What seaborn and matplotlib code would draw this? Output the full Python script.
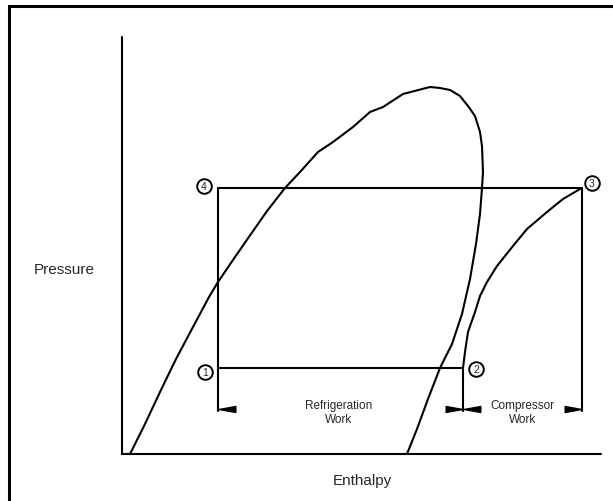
import numpy as np
import matplotlib.pyplot as plt
import seaborn as sns
import pandas as pd
from matplotlib.path import Path

sns.set_style("white")
plt.rcParams['font.family'] = ['Liberation Sans', 'DejaVu Sans']

# Schematic pressure-enthalpy diagram (pixel-like units)
dome_x = [130, 145, 160, 176, 193, 209, 218, 235, 251, 267, 285, 300, 318, 333, 353, 370, 383, 403,
          430, 440, 450, 460, 468, 475, 480, 482, 483, 482, 480, 476, 470, 462, 452, 440, 428, 417, 407]
dome_y = [455, 425, 393, 360, 328, 298, 283, 258, 235, 212, 189, 173, 153, 143, 128, 113, 108, 95,
          88, 89, 91, 97, 107, 117, 133, 147, 173, 189, 215, 245, 280, 315, 345, 369, 400, 430, 455]

comp_x = [463, 465, 468, 475, 480, 487, 497, 513, 527, 547, 563, 580]
comp_y = [369, 353, 333, 313, 297, 283, 267, 247, 230, 213, 200, 190]

# cycle corners 1, 2, 3, 4
cyc_x = [218, 463, 582, 218]
cyc_y = [369, 369, 189, 189]
cyc_labels = ["1", "2", "3", "4"]
lab_x = [205, 476, 592, 204]
lab_y = [373, 370, 184, 187]

# dimension lines
dim_y = 410
dim_bottom = 412
ref_span = [218, 463]
comp_span = [463, 582]

axis_x0, axis_x1 = 122, 601
axis_y0, axis_y1 = 38, 455

fig = plt.figure(figsize=(6.13, 5.02), dpi=100)
ax = fig.add_axes([0, 0, 1, 1])
ax.set_xlim(0, 613)
ax.set_ylim(502, 0)
ax.axis("off")

lw = 1.5
# outer frame (top and left visible)
ax.plot([9, 9, 613], [502, 7, 7], color="black", lw=2.2, solid_joinstyle="miter")

# axes
ax.plot([axis_x0, axis_x0, axis_x1], [axis_y0, axis_y1, axis_y1], color="black", lw=lw,
        solid_joinstyle="miter")

# saturation dome and compression line
dome = pd.DataFrame({"h": dome_x, "p": dome_y})
sns.lineplot(data=dome, x="h", y="p", sort=False, estimator=None, color="black", lw=lw, ax=ax)
comp = pd.DataFrame({"h": comp_x, "p": comp_y})
sns.lineplot(data=comp, x="h", y="p", sort=False, estimator=None, color="black", lw=lw, ax=ax)

# cycle lines
ax.plot([cyc_x[3], cyc_x[2]], [cyc_y[3], cyc_y[2]], color="black", lw=lw)
ax.plot([cyc_x[0], cyc_x[1]], [cyc_y[0], cyc_y[1]], color="black", lw=lw)
ax.plot([cyc_x[3], cyc_x[0]], [cyc_y[3], dim_bottom], color="black", lw=lw)
ax.plot([cyc_x[1], cyc_x[1]], [cyc_y[1], dim_bottom], color="black", lw=lw)
ax.plot([cyc_x[2], cyc_x[2]], [cyc_y[2], dim_bottom], color="black", lw=lw)

# arrowheads
left_head = Path([(-1, 0), (1, 0.36), (1, -0.36), (-1, 0)])
right_head = Path([(1, 0), (-1, 0.36), (-1, -0.36), (1, 0)])
for span in (ref_span, comp_span):
    ax.plot([span[0] + 9], [dim_y], marker=left_head, markersize=12, color="black", lw=0)
    ax.plot([span[1] - 9], [dim_y], marker=right_head, markersize=12, color="black", lw=0)

ax.text(np.mean(ref_span) - 2, dim_y + 3, "Refrigeration\nWork", ha="center", va="center",
        fontsize=8.5, linespacing=1.15)
ax.text(np.mean(comp_span), dim_y + 3, "Compressor\nWork", ha="center", va="center",
        fontsize=8.5, linespacing=1.15)

# state point labels
for lx, ly, t in zip(lab_x, lab_y, cyc_labels):
    ax.plot([lx], [ly], marker="o", markersize=10.5, markerfacecolor="white",
            markeredgecolor="black", markeredgewidth=1.4, lw=0)
    ax.text(lx, ly + 0.5, t, ha="center", va="center", fontsize=7.5)

ax.text(64, 270, "Pressure", ha="center", va="center", fontsize=11)
ax.text(362, 481, "Enthalpy", ha="center", va="center", fontsize=11)

fig.savefig("out.png", dpi=100)
